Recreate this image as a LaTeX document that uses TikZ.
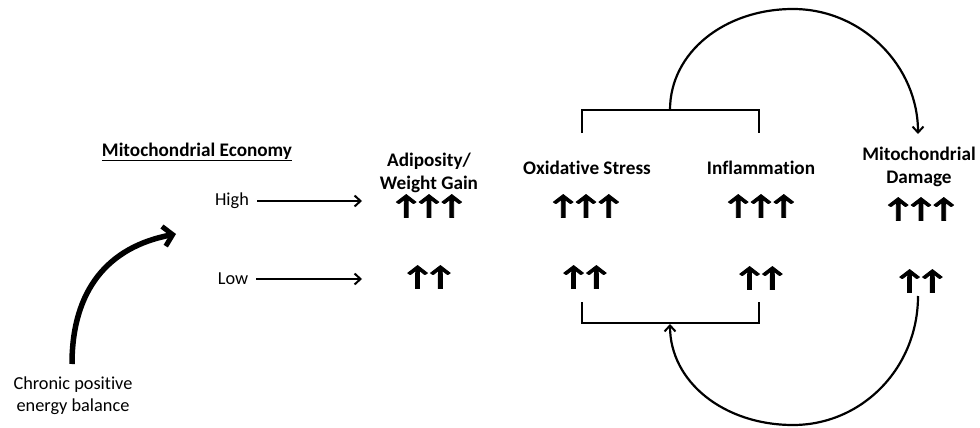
\documentclass[tikz,border=0pt]{standalone}
\usepackage{fontspec}
\usepackage{graphicx}
\setmainfont{Carlito}[Ligatures=NoCommon]
\newfontfamily\arrowfont{Carlito}[FakeBold=3.2, FakeStretch=1.3]
\usetikzlibrary{arrows.meta}
\newcommand{\uptwo}{↑\kern-9pt↑}
\newcommand{\upthree}{↑\kern-9pt↑\kern-9pt↑}
\begin{document}
\begin{tikzpicture}[x=1pt,y=-1pt,
  lbl/.style={font=\fontsize{18.3}{22}\selectfont, inner sep=0pt, align=center},
  head/.style={font=\fontsize{19.2}{23}\selectfont\bfseries, inner sep=0pt, align=center},
  ups/.style={font=\fontsize{27}{27}\arrowfont\bfseries, inner sep=0pt},
  thin/.style={line width=2.2pt, -{Straight Barb[length=6pt,width=11pt,line width=2pt]}},
  brk/.style={line width=2.2pt}]
\useasboundingbox (0,0) rectangle (980,428);

% labels
\node[head] (econ) at (197,152) {\underline{Mitochondrial Economy}};
\node[lbl] (high) at (232,201) {High};
\node[lbl] (low) at (233,279) {Low};
\node[lbl] (chronic) at (73,396) {Chronic positive\\energy balance};
\node[head] (adip) at (429,173) {Adiposity/\\Weight Gain};
\node[head] (oxid) at (587,168) {Oxidative Stress};
\node[head] (infl) at (761,168) {Inflammation};
\node[head] (mito) at (919,167) {Mitochondrial\\Damage};

% up arrows
\node[ups] (aH) at (429,206) {\upthree};
\node[ups] (oH) at (586,206) {\upthree};
\node[ups] (iH) at (761,206) {\upthree};
\node[ups] (mH) at (921,209) {\upthree};
\node[ups] (aL) at (429,277) {\uptwo};
\node[ups] (oL) at (585,277) {\uptwo};
\node[ups] (iL) at (761,278) {\uptwo};
\node[ups] (mL) at (921,281) {\uptwo};

% coordinates
\coordinate (highEnd) at (362,201);
\coordinate (lowEnd) at (362,279);
\coordinate (econStart) at (72,364);
\coordinate (econTip) at (176,234);
\coordinate (topMid) at (670,110);
\coordinate (topPeak) at (793,9);
\coordinate (mitoIn) at (918,134);
\coordinate (botMid) at (670,324);
\coordinate (botLow) at (793,425);
\coordinate (mitoOut) at (918,296);

% horizontal arrows
\draw[thin] ([xshift=8pt]high.east) -- (highEnd);
\draw[thin] ([xshift=8pt]low.east) -- (lowEnd);

% big curved arrow
\draw[line width=5.5pt, -{Straight Barb[length=9pt,width=20pt,line width=5pt]}]
  (econStart) .. controls (72,290) and (108,247) .. (econTip);

% brackets
\draw[brk] (582,133) |- (759,110) -- (759,133);
\draw[brk] (582,302) |- (759,323) -- (759,302);

% feedback arcs
\draw[thin] (topMid) .. controls (670,52) and (725,9) .. (topPeak)
  .. controls (862,9) and (918,66) .. (mitoIn);
\draw[thin] (mitoOut) .. controls (918,368) and (862,425) .. (botLow)
  .. controls (724,425) and (670,382) .. (botMid);
\end{tikzpicture}
\end{document}
